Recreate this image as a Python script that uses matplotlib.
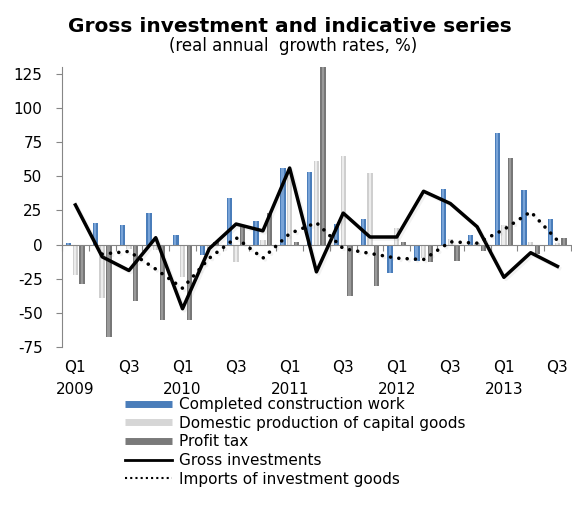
import numpy as np
import matplotlib
matplotlib.use("Agg")
import matplotlib.pyplot as plt
import matplotlib.transforms as mtransforms
from matplotlib.lines import Line2D
import matplotlib.patheffects as pe

plt.rcParams['font.family'] = ['DejaVu Sans']
plt.rcParams['axes.unicode_minus'] = False

# quarters Q1 2009 .. Q3 2013
quarters = ['Q1', 'Q2', 'Q3', 'Q4'] * 4 + ['Q1', 'Q2', 'Q3']
years = ['2009', '2010', '2011', '2012', '2013']

construction = [1, 16, 14, 23, 7, -8, 34, 17, 56, 53, 15, 19, -21, -12, 41, 7, 82, 40, 19]
domestic_prod = [-22, -39, -3, -4, -24, -3, -13, 3, 52, 61, 65, 52, 12, -10, 4, 1, 14, 2, 1]
profit_tax = [-29, -68, -41, -55, -55, 2, 13, 23, 2, 131, -38, -30, 2, -13, -12, -5, 63, -7, 5]
gross_inv = [29, -9, -19, 5, -47, -3, 15, 10, 56, -20, 23, 5.5, 5.5, 39, 30, 13, -24, -6, -16]
imports_inv = [np.nan, -7, -5, -18, -32, -10, 5, -10, 8, 16, -3, -6.5, -10, -11, 2, 1, 11, 24, 3]

x = np.arange(len(quarters))
fs = 11

fig = plt.figure(figsize=(5.72, 5.27), dpi=100)
ax = fig.add_axes([0.1084, 0.3416, 0.8896, 0.5314])

bw = 0.2
series = [
    (construction, -0.25, '#4a7dba', '#86aee0'),
    (domestic_prod, 0.0, '#cfcfcf', '#f4f4f4'),
    (profit_tax, 0.25, '#777777', '#a3a3a3'),
]
for vals, off, base, light in series:
    ax.bar(x + off, vals, width=bw, color=base, zorder=2)
    # lighter stripe for the rounded look
    ax.bar(x + off - 0.015, vals, width=bw * 0.4, color=light, zorder=2.1, alpha=0.8)

shadow = [pe.SimpleLineShadow(offset=(1.5, -1.5), shadow_color='gray', alpha=0.1), pe.Normal()]
ax.plot(x, gross_inv, color='black', lw=2.5, zorder=4, path_effects=shadow)
ax.plot(x, imports_inv, color='black', lw=2.6, linestyle=(0, (0.01, 2.3)),
        dash_capstyle='round', zorder=4, path_effects=shadow)

ax.set_xlim(-0.5, len(x) - 0.5)
ax.set_ylim(-75, 130)
ax.set_yticks([-75, -50, -25, 0, 25, 50, 75, 100, 125])

gray = '#868686'
for s in ['top', 'right']:
    ax.spines[s].set_visible(False)
ax.spines['left'].set_color(gray)
ax.spines['bottom'].set_position(('data', 0))
ax.spines['bottom'].set_color(gray)
ax.spines['bottom'].set_zorder(3)
ax.set_xticks(np.arange(len(x) + 1) - 0.5)
ax.set_xticklabels([])
ax.tick_params(axis='x', direction='out', length=4, color=gray)
ax.tick_params(axis='y', direction='out', length=4, color=gray, pad=10, labelsize=fs)

# category labels under the plot
trans = mtransforms.blended_transform_factory(ax.transData, fig.transFigure)
for i in range(0, len(x), 2):
    ax.text(x[i], 1 - 367 / 527, quarters[i], transform=trans, ha='center', va='center', fontsize=fs)
for j, yr in enumerate(years):
    ax.text(x[j * 4], 1 - 390 / 527, yr, transform=trans, ha='center', va='center', fontsize=fs)

fig.text(0.507, 1 - 27 / 527, 'Gross investment and indicative series',
         ha='center', va='center', fontsize=14.5, fontweight='bold')
fig.text(0.512, 1 - 46 / 527, '(real annual  growth rates, %)',
         ha='center', va='center', fontsize=12)

handles = [
    Line2D([], [], color='#4a7dba', lw=5, solid_capstyle='butt'),
    Line2D([], [], color='#d6d6d6', lw=5, solid_capstyle='butt'),
    Line2D([], [], color='#7a7a7a', lw=5, solid_capstyle='butt'),
    Line2D([], [], color='black', lw=2),
    Line2D([], [], color='black', lw=1.5, linestyle=(0, (1, 1.5))),
]
labels = ['Completed construction work', 'Domestic production of capital goods',
          'Profit tax', 'Gross investments', 'Imports of investment goods']
fig.legend(handles, labels, loc='upper left', bbox_to_anchor=(125 / 572, 1 - 397 / 527),
           frameon=False, fontsize=fs, handlelength=3.1, handletextpad=0.45,
           labelspacing=0.24, borderpad=0, borderaxespad=0)

fig.savefig('out.png', dpi=100)
